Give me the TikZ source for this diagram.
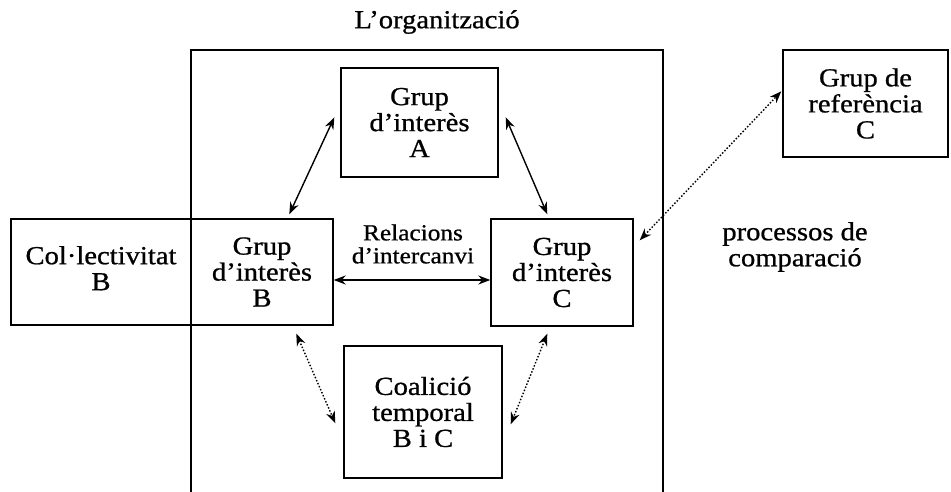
\documentclass[tikz,border=0pt]{standalone}
\usepackage{fontspec}
\setmainfont[FakeStretch=1.1,FakeBold=0.8]{Liberation Serif}
\usetikzlibrary{arrows.meta}
\begin{document}
\begin{tikzpicture}[x=1pt,y=-1pt,
  box/.style={draw,line width=1.4pt,inner sep=0pt,align=center,font=\fontsize{26}{26}\selectfont},
  txt/.style={inner sep=0pt,align=center,font=\fontsize{26}{26}\selectfont},
  smalltxt/.style={inner sep=0pt,align=center,font=\fontsize{23}{23}\selectfont},
  frame/.style={line width=1.4pt},
  arr/.style={line width=1.4pt,{Stealth[length=12pt,width=9pt]}-{Stealth[length=12pt,width=9pt]}},
  dotarr/.style={arr,dash pattern=on 1.5pt off 1.8pt}]
\useasboundingbox (0,0) rectangle (951,492);
% organisation frame (open at the bottom)
\coordinate (o1) at (191,492);
\coordinate (o2) at (191,50);
\coordinate (o3) at (663,50);
\coordinate (o4) at (663,492);
\draw[frame] (o1) -- (o2) -- (o3) -- (o4);
\node[txt] (T) at (437,22) {L'organització};
% boxes
\node[box,minimum width=157pt,minimum height=109pt] (A) at (419.5,122.5) {Grup\\d'interès\\A};
\node[box,minimum width=180pt,minimum height=106pt] (Col) at (101,272) {\raisebox{6pt}{\begin{tabular}{@{}c@{}}Col·lectivitat\\B\end{tabular}}};
\node[box,minimum width=142pt,minimum height=106pt] (B) at (262,272) {Grup\\d'interès\\B};
\node[box,minimum width=142pt,minimum height=107pt] (C) at (562,272.5) {Grup\\d'interès\\C};
\node[box,minimum width=158pt,minimum height=132pt] (Coal) at (423,412) {Coalició\\temporal\\B i C};
\node[box,minimum width=165pt,minimum height=107pt] (Ref) at (865.5,103.5) {Grup de\\referència\\C};
% labels
\node[smalltxt] (R) at (413,244) {Relacions\\d'intercanvi};
\node[txt] (P) at (795,247) {processos de\\comparació};
% connector ends
\coordinate (ab1) at ([shift={(-6,50)}]A.north west);
\coordinate (ab2) at ([shift={(99,-4)}]B.north west);
\coordinate (ac1) at ([shift={(7,50)}]A.north east);
\coordinate (ac2) at ([shift={(57,-4)}]C.north west);
\coordinate (bc1) at ([shift={(0,8)}]B.east);
\coordinate (bc2) at ([shift={(0,7.5)}]C.west);
\coordinate (bk1) at ([shift={(106,8)}]B.south west);
\coordinate (bk2) at ([shift={(-8,78)}]Coal.north west);
\coordinate (ck1) at ([shift={(57,7)}]C.south west);
\coordinate (ck2) at ([shift={(8,79)}]Coal.north east);
\coordinate (cr1) at ([shift={(6,22)}]C.north east);
\coordinate (cr2) at ([shift={(-1,42)}]Ref.north west);
% connectors
\draw[arr] (ab1) -- (ab2);
\draw[arr] (ac1) -- (ac2);
\draw[arr] (bc1) -- (bc2);
\draw[dotarr] (bk1) -- (bk2);
\draw[dotarr] (ck1) -- (ck2);
\draw[dotarr] (cr1) -- (cr2);
\end{tikzpicture}
\end{document}
